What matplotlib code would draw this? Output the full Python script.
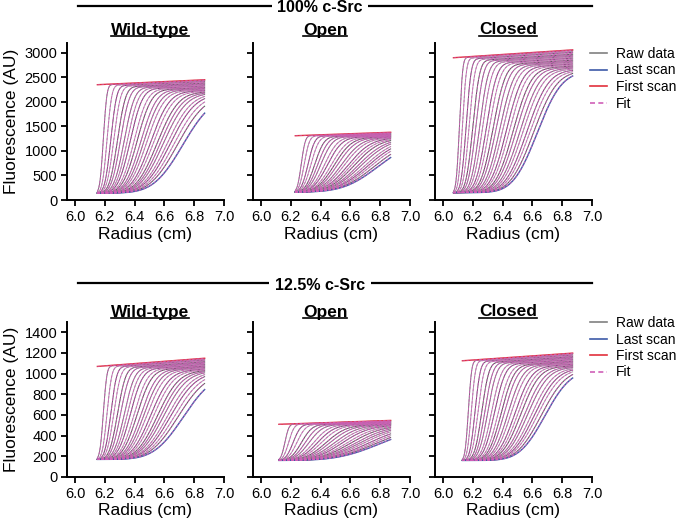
import math
import numpy as np
import matplotlib
matplotlib.use('Agg')
import matplotlib.pyplot as plt
from matplotlib.lines import Line2D

plt.rcParams['font.family'] = ['Liberation Sans', 'DejaVu Sans']

# values
# per panel: meniscus (start of data), end of data, baseline, first-scan plateau,
# plateau slope (AU/cm), boundary midpoints of later scans, their plateaus
r_end = 6.87
groups = ['100% c-Src', '12.5% c-Src']
panels = ['Wild-type', 'Open', 'Closed']

wt100_start, wt100_base, wt100_first, wt100_slope, wt100_spread = 6.15, 140, 2350, 140, 0.36
wt100_mids = [6.19, 6.215, 6.24, 6.26, 6.285, 6.305, 6.33, 6.35, 6.37, 6.395, 6.415, 6.44,
              6.46, 6.48, 6.505, 6.525, 6.55, 6.57, 6.59, 6.615, 6.635, 6.66, 6.685, 6.72]
wt100_plats = [2340, 2325, 2310, 2295, 2280, 2265, 2250, 2235, 2220, 2205, 2190, 2175,
               2160, 2145, 2130, 2115, 2100, 2085, 2070, 2055, 2040, 2025, 2010, 1990]

op100_start, op100_base, op100_first, op100_slope, op100_spread = 6.23, 160, 1310, 110, 0.45
op100_mids = [6.27, 6.29, 6.315, 6.335, 6.36, 6.38, 6.40, 6.425, 6.445, 6.47, 6.49, 6.51,
              6.535, 6.555, 6.58, 6.60, 6.62, 6.645, 6.665, 6.69, 6.71, 6.73, 6.755, 6.78]
op100_plats = [1300, 1292, 1284, 1276, 1268, 1260, 1252, 1244, 1236, 1228, 1220, 1212,
               1204, 1196, 1188, 1180, 1172, 1164, 1156, 1148, 1140, 1132, 1124, 1115]

cl100_start, cl100_base, cl100_first, cl100_slope, cl100_spread = 6.07, 150, 2900, 200, 0.30
cl100_mids = [6.11, 6.13, 6.155, 6.175, 6.20, 6.22, 6.245, 6.265, 6.29, 6.31, 6.335, 6.355,
              6.38, 6.40, 6.425, 6.445, 6.47, 6.49, 6.515, 6.535, 6.56, 6.58, 6.605, 6.63]
cl100_plats = [2890, 2870, 2850, 2830, 2810, 2790, 2770, 2750, 2730, 2710, 2690, 2670,
               2650, 2630, 2610, 2590, 2570, 2550, 2530, 2510, 2490, 2470, 2455, 2440]

wt12_start, wt12_base, wt12_first, wt12_slope, wt12_spread = 6.15, 170, 1070, 110, 0.36
wt12_mids = [6.19, 6.215, 6.24, 6.26, 6.285, 6.305, 6.33, 6.35, 6.37, 6.395, 6.415, 6.44,
             6.46, 6.48, 6.505, 6.525, 6.55, 6.57, 6.59, 6.615, 6.635, 6.66, 6.685, 6.72]
wt12_plats = [1065, 1058, 1051, 1044, 1036, 1029, 1022, 1015, 1008, 1001, 994, 987,
              980, 972, 965, 958, 951, 944, 937, 930, 923, 916, 908, 900]

op12_start, op12_base, op12_first, op12_slope, op12_spread = 6.12, 160, 510, 50, 0.45
op12_mids = [6.16, 6.185, 6.215, 6.24, 6.27, 6.295, 6.32, 6.35, 6.375, 6.40, 6.43, 6.455,
             6.485, 6.51, 6.535, 6.565, 6.59, 6.62, 6.645, 6.67, 6.70, 6.725, 6.75, 6.78]
op12_plats = [508, 505, 501, 498, 494, 491, 487, 484, 480, 477, 474, 470,
              467, 463, 460, 457, 453, 450, 446, 443, 440, 436, 433, 430]

cl12_start, cl12_base, cl12_first, cl12_slope, cl12_spread = 6.13, 160, 1125, 100, 0.32
cl12_mids = [6.17, 6.19, 6.215, 6.235, 6.26, 6.28, 6.30, 6.325, 6.345, 6.37, 6.39, 6.41,
             6.435, 6.455, 6.48, 6.50, 6.52, 6.545, 6.565, 6.59, 6.61, 6.63, 6.655, 6.68]
cl12_plats = [1120, 1113, 1105, 1098, 1090, 1083, 1076, 1068, 1061, 1053, 1046, 1039,
              1031, 1024, 1016, 1009, 1002, 994, 987, 979, 972, 965, 957, 950]

rows = [
    [(wt100_start, wt100_base, wt100_first, wt100_slope, wt100_spread, wt100_mids, wt100_plats),
     (op100_start, op100_base, op100_first, op100_slope, op100_spread, op100_mids, op100_plats),
     (cl100_start, cl100_base, cl100_first, cl100_slope, cl100_spread, cl100_mids, cl100_plats)],
    [(wt12_start, wt12_base, wt12_first, wt12_slope, wt12_spread, wt12_mids, wt12_plats),
     (op12_start, op12_base, op12_first, op12_slope, op12_spread, op12_mids, op12_plats),
     (cl12_start, cl12_base, cl12_first, cl12_slope, cl12_spread, cl12_mids, cl12_plats)],
]
ylims = [3200, 1500]
yticks = [np.arange(0, 3001, 500), np.arange(0, 1401, 200)]

raw_cols = ['#7d6d7d', '#a898a8', '#6d4d6d', '#b3a3b3', '#555555', '#8d6d8d']
fit_col = '#d060b8'
blue = '#3d5aa8'
red = '#e2303c'

erf = np.frompyfunc(math.erf, 1, 1)


def scan(r, start, base, plat, slope, mid, spread):
    w = 0.012 + spread * (mid - start)
    top = plat + slope * (r - start)
    frac = 0.5 * (1 + erf((r - mid) / w).astype(float))
    return base + (top - base) * frac


fig = plt.figure(figsize=(6.8, 5.24), dpi=100)
W, H = 680, 524
ax_left = [67, 253, 435]
ax_w = 157
row_top = [43, 322]
row_bot = [200, 477]
title_x = [150, 325, 508]
title_y = [30, 312]
legend_top = [47, 316]

for ri in range(2):
    for ci in range(3):
        start, base, first, slope, spread, mids, plats = rows[ri][ci]
        ax = fig.add_axes([ax_left[ci] / W, 1 - row_bot[ri] / H, ax_w / W,
                           (row_bot[ri] - row_top[ri]) / H])
        r = np.linspace(start, r_end, 300)
        # first scan (flat plateau)
        red_y = first + slope * (r - start)
        for k, (m, p) in enumerate(zip(mids[:-1], plats[:-1])):
            y = scan(r, start, base, p, slope, m, spread)
            ax.plot(r, y, color=raw_cols[k % len(raw_cols)], lw=0.7)
        y_last = scan(r, start, base, plats[-1], slope, mids[-1], spread)
        ax.plot(r, y_last, color=blue, lw=1.0)
        ax.plot(r, red_y, color=red, lw=1.0)
        for m, p in zip(mids, plats):
            y = scan(r, start, base, p, slope, m, spread)
            ax.plot(r, y, color=fit_col, lw=0.6, ls=(0, (3, 2)))
        ax.plot(r, red_y, color=fit_col, lw=0.6, ls=(0, (3, 2)), alpha=0.7)

        ax.set_xlim(5.946, 7.0)
        ax.set_ylim(0, ylims[ri])
        ax.set_xticks(np.arange(6.0, 7.01, 0.2))
        ax.set_xticklabels(['6.0', '6.2', '6.4', '6.6', '6.8', '7.0'])
        ax.set_yticks(yticks[ri])
        for s in ['top', 'right']:
            ax.spines[s].set_visible(False)
        for s in ['left', 'bottom']:
            ax.spines[s].set_linewidth(1.4)
        ax.tick_params(direction='out', length=4, width=1.3, labelsize=10.5, pad=3)
        if ci == 0:
            ax.set_ylabel('Fluorescence (AU)', fontsize=12.5, labelpad=4)
        else:
            ax.set_yticklabels([])
        ax.set_xlabel('Radius (cm)', fontsize=12.5, labelpad=2)

        fig.text(title_x[ci] / W, 1 - title_y[ri] / H, panels[ci], fontsize=12.5,
                 fontweight='bold', ha='center', va='center')

        if ci == 2:
            handles = [Line2D([], [], color='#808080', lw=1.2),
                       Line2D([], [], color=blue, lw=1.2),
                       Line2D([], [], color=red, lw=1.2),
                       Line2D([], [], color=fit_col, lw=1.2, ls=(0, (3, 2)))]
            ax.legend(handles, ['Raw data', 'Last scan', 'First scan', 'Fit'],
                      loc='upper left', bbox_to_anchor=(590 / W, 1 - legend_top[ri] / H),
                      bbox_transform=fig.transFigure, frameon=False, fontsize=10,
                      handlelength=1.25, handletextpad=0.6, labelspacing=0.18,
                      borderpad=0, borderaxespad=0)

# group headers
header_y = [6, 283]
for ri in range(2):
    yy = 1 - header_y[ri] / H
    fig.add_artist(Line2D([78 / W, 592 / W], [yy, yy], color='black', lw=1.6))
    fig.text(320 / W, 1 - (header_y[ri] + 2) / H, groups[ri], fontsize=11.5,
             fontweight='bold', ha='center', va='center',
             bbox=dict(facecolor='white', edgecolor='none', pad=4))

# underline the panel titles
fig.canvas.draw()
renderer = fig.canvas.get_renderer()
for t in fig.texts:
    if t.get_text() in panels:
        bb = t.get_window_extent(renderer).transformed(fig.transFigure.inverted())
        uy = bb.y0 + 0.003
        fig.add_artist(Line2D([bb.x0, bb.x1], [uy, uy], color='black', lw=1.2))

fig.savefig('out.png', dpi=100)
